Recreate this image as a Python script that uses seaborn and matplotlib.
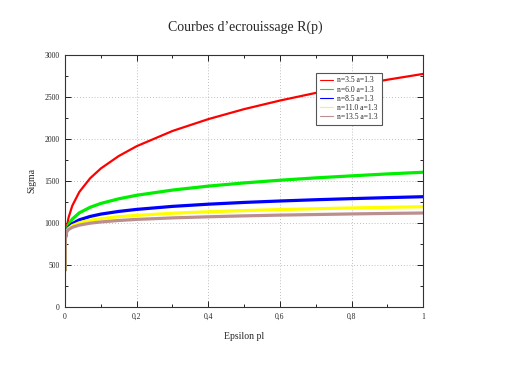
import pandas as pd
import seaborn as sns
import matplotlib.pyplot as plt
from matplotlib.ticker import MultipleLocator

# ------------------------
# Data
# ------------------------
eps = [0, 0.001, 0.005, 0.01, 0.02, 0.04, 0.07, 0.1, 0.15, 0.2,
       0.3, 0.4, 0.5, 0.6, 0.7, 0.8, 0.9, 1.0]

sig_n35 = [440, 764, 954, 1066, 1203, 1370, 1532, 1649, 1797, 1914,
           2095, 2236, 2355, 2457, 2548, 2630, 2705, 2774]
sig_n60 = [440, 808, 921, 980, 1046, 1121, 1187, 1233, 1288, 1330,
           1392, 1439, 1477, 1509, 1537, 1561, 1584, 1604]
sig_n85 = [440, 827, 908, 948, 991, 1038, 1078, 1106, 1138, 1162,
           1198, 1224, 1245, 1262, 1277, 1290, 1302, 1313]
sig_n110 = [440, 842, 906, 936, 968, 1003, 1032, 1052, 1075, 1091,
            1116, 1134, 1148, 1160, 1170, 1179, 1187, 1194]
sig_n135 = [440, 847, 899, 923, 948, 975, 998, 1013, 1030, 1043,
            1061, 1074, 1085, 1094, 1101, 1108, 1114, 1119]

labels = ['n=3.5 a=1.3', 'n=6.0 a=1.3', 'n=8.5 a=1.3', 'n=11.0 a=1.3', 'n=13.5 a=1.3']
series = [sig_n35, sig_n60, sig_n85, sig_n110, sig_n135]
colors = ['#ff0000', '#00ee00', '#0000ff', '#ffff00', '#bc8f8f']
widths = [1.6, 2.3, 2.3, 2.3, 2.3]

xticks = [0, 0.2, 0.4, 0.6, 0.8, 1.0]
xtick_labels = ['0', '0,2', '0,4', '0,6', '0,8', '1']
yticks = [0, 500, 1000, 1500, 2000, 2500, 3000]

frames = []
for lab, vals in zip(labels, series):
    frames.append(pd.DataFrame({'Epsilon': eps, 'Sigma': vals, 'Courbe': lab}))
df = pd.concat(frames, ignore_index=True)

# ------------------------
# Plot
# ------------------------
sns.set_style('ticks')
plt.rcParams['font.family'] = ['Liberation Serif', 'DejaVu Serif']

fig = plt.figure(figsize=(5.14, 3.66), dpi=100)
ax = fig.add_axes([0.1265, 0.161, 0.697, 0.689])

for lab, col, lw in zip(labels, colors, widths):
    sns.lineplot(data=df[df['Courbe'] == lab], x='Epsilon', y='Sigma',
                 color=col, linewidth=lw, ax=ax, label=lab)

ax.set_xlim(0, 1)
ax.set_ylim(0, 3000)
ax.set_xticks(xticks, xtick_labels)
ax.set_yticks(yticks, [str(v) for v in yticks])
ax.xaxis.set_minor_locator(MultipleLocator(0.1))
ax.yaxis.set_minor_locator(MultipleLocator(250))
ax.tick_params(which='both', direction='in', top=True, right=True,
               labelsize=5.5, color='black', width=0.6, pad=4)
ax.tick_params(which='major', length=4)
ax.tick_params(which='minor', length=2.5)
ax.grid(True, which='major', linestyle=(0, (1, 2.5)), color='#aaaaaa', linewidth=0.6)
for s in ax.spines.values():
    s.set_linewidth(0.8)
    s.set_color('#333333')

ax.set_xlabel('Epsilon pl', fontsize=7, labelpad=8)
ax.set_ylabel('Sigma', fontsize=7, labelpad=6)
fig.text(0.477, 0.925, "Courbes d\u2019ecrouissage R(p)", ha='center', va='center', fontsize=10)

leg = ax.legend(loc='upper left', bbox_to_anchor=(0.70, 0.93),
                fontsize=5.5, frameon=True, fancybox=False, framealpha=1,
                edgecolor='#555555', handlelength=1.8, labelspacing=0.15,
                borderpad=0.5, handletextpad=0.5, borderaxespad=0)
leg.get_frame().set_linewidth(0.8)
for ln in leg.get_lines():
    ln.set_linewidth(0.8)

fig.savefig('out.png', dpi=100)
